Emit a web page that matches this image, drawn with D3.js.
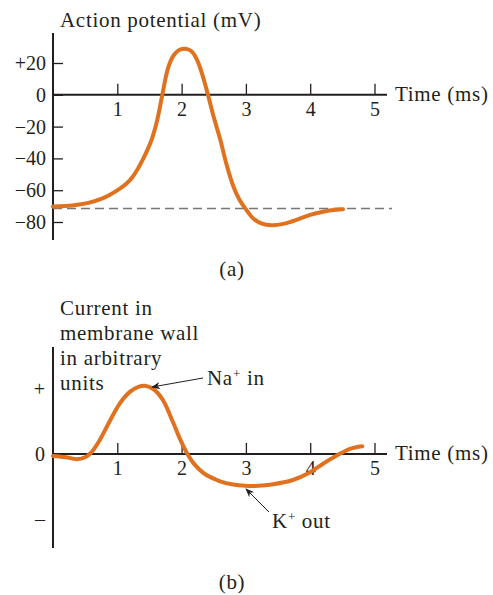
<!DOCTYPE html>
<html><head><meta charset="utf-8">
<script src="https://cdn.jsdelivr.net/npm/d3@7"></script>
<style>
html,body{margin:0;padding:0;background:#fff;}
svg text{font-family:"Liberation Serif","DejaVu Serif",serif;fill:#231f20;}
</style></head>
<body>
<script>
// ---- data ----
const timeTicks = [1, 2, 3, 4, 5];
const apTicks = [20, 0, -20, -40, -60, -80];
const apTime  = [0, 0.3, 0.55, 0.75, 0.9, 1.04, 1.14, 1.24, 1.32, 1.40, 1.47, 1.54, 1.62, 1.70, 1.79, 1.88, 1.97, 2.06, 2.15, 2.24, 2.32, 2.41, 2.50, 2.60, 2.70, 2.80, 2.90, 3.00, 3.12, 3.25, 3.40, 3.60, 3.80, 4.00, 4.20, 4.40, 4.51];
const apValue = [-70.3, -69.6, -68, -65.5, -62.5, -59, -56, -51.5, -46.5, -40.5, -34.5, -27.5, -16, 0, 17, 25, 28.3, 29, 27.5, 22, 13, 0, -14, -28, -44, -57, -66, -72, -78, -81, -82, -81, -78.5, -75.5, -73.5, -72.3, -72];
const restingPotential = -71.5;
const curTicks = [1, 0, -1];
const curTickLabels = ["+", "0", "–"];
const curTime  = [0, 0.2, 0.37, 0.5, 0.6, 0.73, 0.89, 1.04, 1.2, 1.32, 1.43, 1.56, 1.71, 1.87, 1.98, 2.08, 2.2, 2.35, 2.6, 2.8, 2.99, 3.2, 3.4, 3.73, 4.0, 4.2, 4.42, 4.62, 4.81];
const curValue = [-0.03, -0.05, -0.08, -0.05, 0.03, 0.22, 0.52, 0.78, 0.96, 1.03, 1.05, 1.0, 0.83, 0.48, 0.22, 0.02, -0.16, -0.3, -0.42, -0.47, -0.49, -0.49, -0.47, -0.4, -0.28, -0.15, -0.02, 0.08, 0.12];
const labelLines = ["Current in", "membrane wall", "in arbitrary", "units"];

const W = 493, H = 595;
const ORANGE = "#e0711f", INK = "#231f20";
const svg = d3.select("body").append("svg").attr("width", W).attr("height", H);

const x = d3.scaleLinear().domain([0, 5]).range([53, 374.5]);
const fs = 21, tfs = 20, LS = 0.7;

function txt(g) { return g.append("text").attr("font-size", fs).attr("letter-spacing", LS); }

function xAxis(g, y0) {
  const ax = g.append("g").attr("transform", `translate(0,${y0})`)
    .call(d3.axisBottom(x).tickValues(timeTicks).tickSizeInner(-11).tickSizeOuter(0).tickPadding(7).tickFormat(d3.format("d")));
  ax.select(".domain").remove();
  ax.selectAll("line").attr("stroke", INK).attr("stroke-width", 1.3);
  ax.selectAll("text").attr("font-size", tfs).attr("font-family", '"Liberation Serif",serif').attr("fill", INK);
  g.append("line").attr("x1", x(0)).attr("x2", 387).attr("y1", y0).attr("y2", y0).attr("stroke", INK).attr("stroke-width", 2);
  txt(g).attr("x", 395).attr("y", y0 + 6).text("Time (ms)");
}

const line = (sy) => d3.line().x(d => x(d[0])).y(d => sy(d[1])).curve(d3.curveCatmullRom.alpha(0.5));

// ---- (a) action potential ----
const ya = d3.scaleLinear().domain([-80, 20]).range([222, 63]);
const ga = svg.append("g");
ga.append("line").attr("x1", x(0)).attr("x2", x(0)).attr("y1", 33).attr("y2", 240).attr("stroke", INK).attr("stroke-width", 2);
const yaAx = ga.append("g").attr("transform", `translate(${x(0)},0)`)
  .call(d3.axisLeft(ya).tickValues(apTicks).tickSizeInner(-10).tickSizeOuter(0).tickPadding(7)
    .tickFormat(d => d > 0 ? "+" + d : d < 0 ? "−" + Math.abs(d) : "0"));
yaAx.select(".domain").remove();
yaAx.selectAll("line").attr("stroke", INK).attr("stroke-width", 1.3);
yaAx.selectAll("text").attr("font-size", tfs).attr("font-family", '"Liberation Serif",serif').attr("fill", INK);
ga.append("line").attr("x1", x(0)).attr("x2", 392).attr("y1", ya(restingPotential)).attr("y2", ya(restingPotential))
  .attr("stroke", "#777").attr("stroke-width", 1.5).attr("stroke-dasharray", "9,5");
xAxis(ga, ya(0));
ga.append("path").datum(apTime.map((t, i) => [t, apValue[i]]))
  .attr("d", line(ya))
  .attr("fill", "none").attr("stroke", ORANGE).attr("stroke-width", 4).attr("stroke-linecap", "round").attr("stroke-linejoin", "round");
txt(ga).attr("x", 60).attr("y", 27).text("Action potential (mV)");
txt(ga).attr("x", 232).attr("y", 276).attr("text-anchor", "middle").text("(a)");

// ---- (b) membrane current ----
const yb = d3.scaleLinear().domain([-1, 1]).range([519, 389]);
const gb = svg.append("g");
gb.append("line").attr("x1", x(0)).attr("x2", x(0)).attr("y1", 347).attr("y2", 548).attr("stroke", INK).attr("stroke-width", 2);
const ybAx = gb.append("g").attr("transform", `translate(${x(0)},0)`)
  .call(d3.axisLeft(yb).tickValues(curTicks).tickSize(0).tickPadding(8).tickFormat((d, i) => curTickLabels[i]));
ybAx.select(".domain").remove();
ybAx.selectAll("text").attr("font-size", tfs).attr("font-family", '"Liberation Serif",serif').attr("fill", INK);
xAxis(gb, yb(0));
gb.append("path").datum(curTime.map((t, i) => [t, curValue[i]]))
  .attr("d", line(yb))
  .attr("fill", "none").attr("stroke", ORANGE).attr("stroke-width", 4).attr("stroke-linecap", "round").attr("stroke-linejoin", "round");
txt(gb).selectAll("tspan").data(labelLines).join("tspan")
  .attr("x", 60).attr("y", (d, i) => 315 + i * 25).text(d => d);

// annotations
const defs = svg.append("defs");
defs.append("marker").attr("id", "ah").attr("viewBox", "0 0 10 10").attr("refX", 9).attr("refY", 5)
  .attr("markerWidth", 9).attr("markerHeight", 9).attr("orient", "auto-start-reverse").attr("markerUnits", "userSpaceOnUse")
  .append("path").attr("d", "M0,1 L10,5 L0,9 L3,5 Z").attr("fill", INK);
gb.append("line").attr("x1", 203).attr("y1", 378).attr("x2", 152).attr("y2", 387)
  .attr("stroke", INK).attr("stroke-width", 1).attr("marker-end", "url(#ah)");
const na = txt(gb).attr("x", 207).attr("y", 385);
na.append("tspan").text("Na");
na.append("tspan").attr("font-size", 13).attr("dy", -7).text("+");
na.append("tspan").attr("dy", 7).text(" in");
gb.append("line").attr("x1", 269).attr("y1", 512).attr("x2", 246).attr("y2", 489)
  .attr("stroke", INK).attr("stroke-width", 1).attr("marker-end", "url(#ah)");
const ko = txt(gb).attr("x", 272).attr("y", 528);
ko.append("tspan").text("K");
ko.append("tspan").attr("font-size", 13).attr("dy", -7).text("+");
ko.append("tspan").attr("dy", 7).text(" out");
txt(gb).attr("x", 232).attr("y", 589).attr("text-anchor", "middle").text("(b)");
</script>
</body></html>
